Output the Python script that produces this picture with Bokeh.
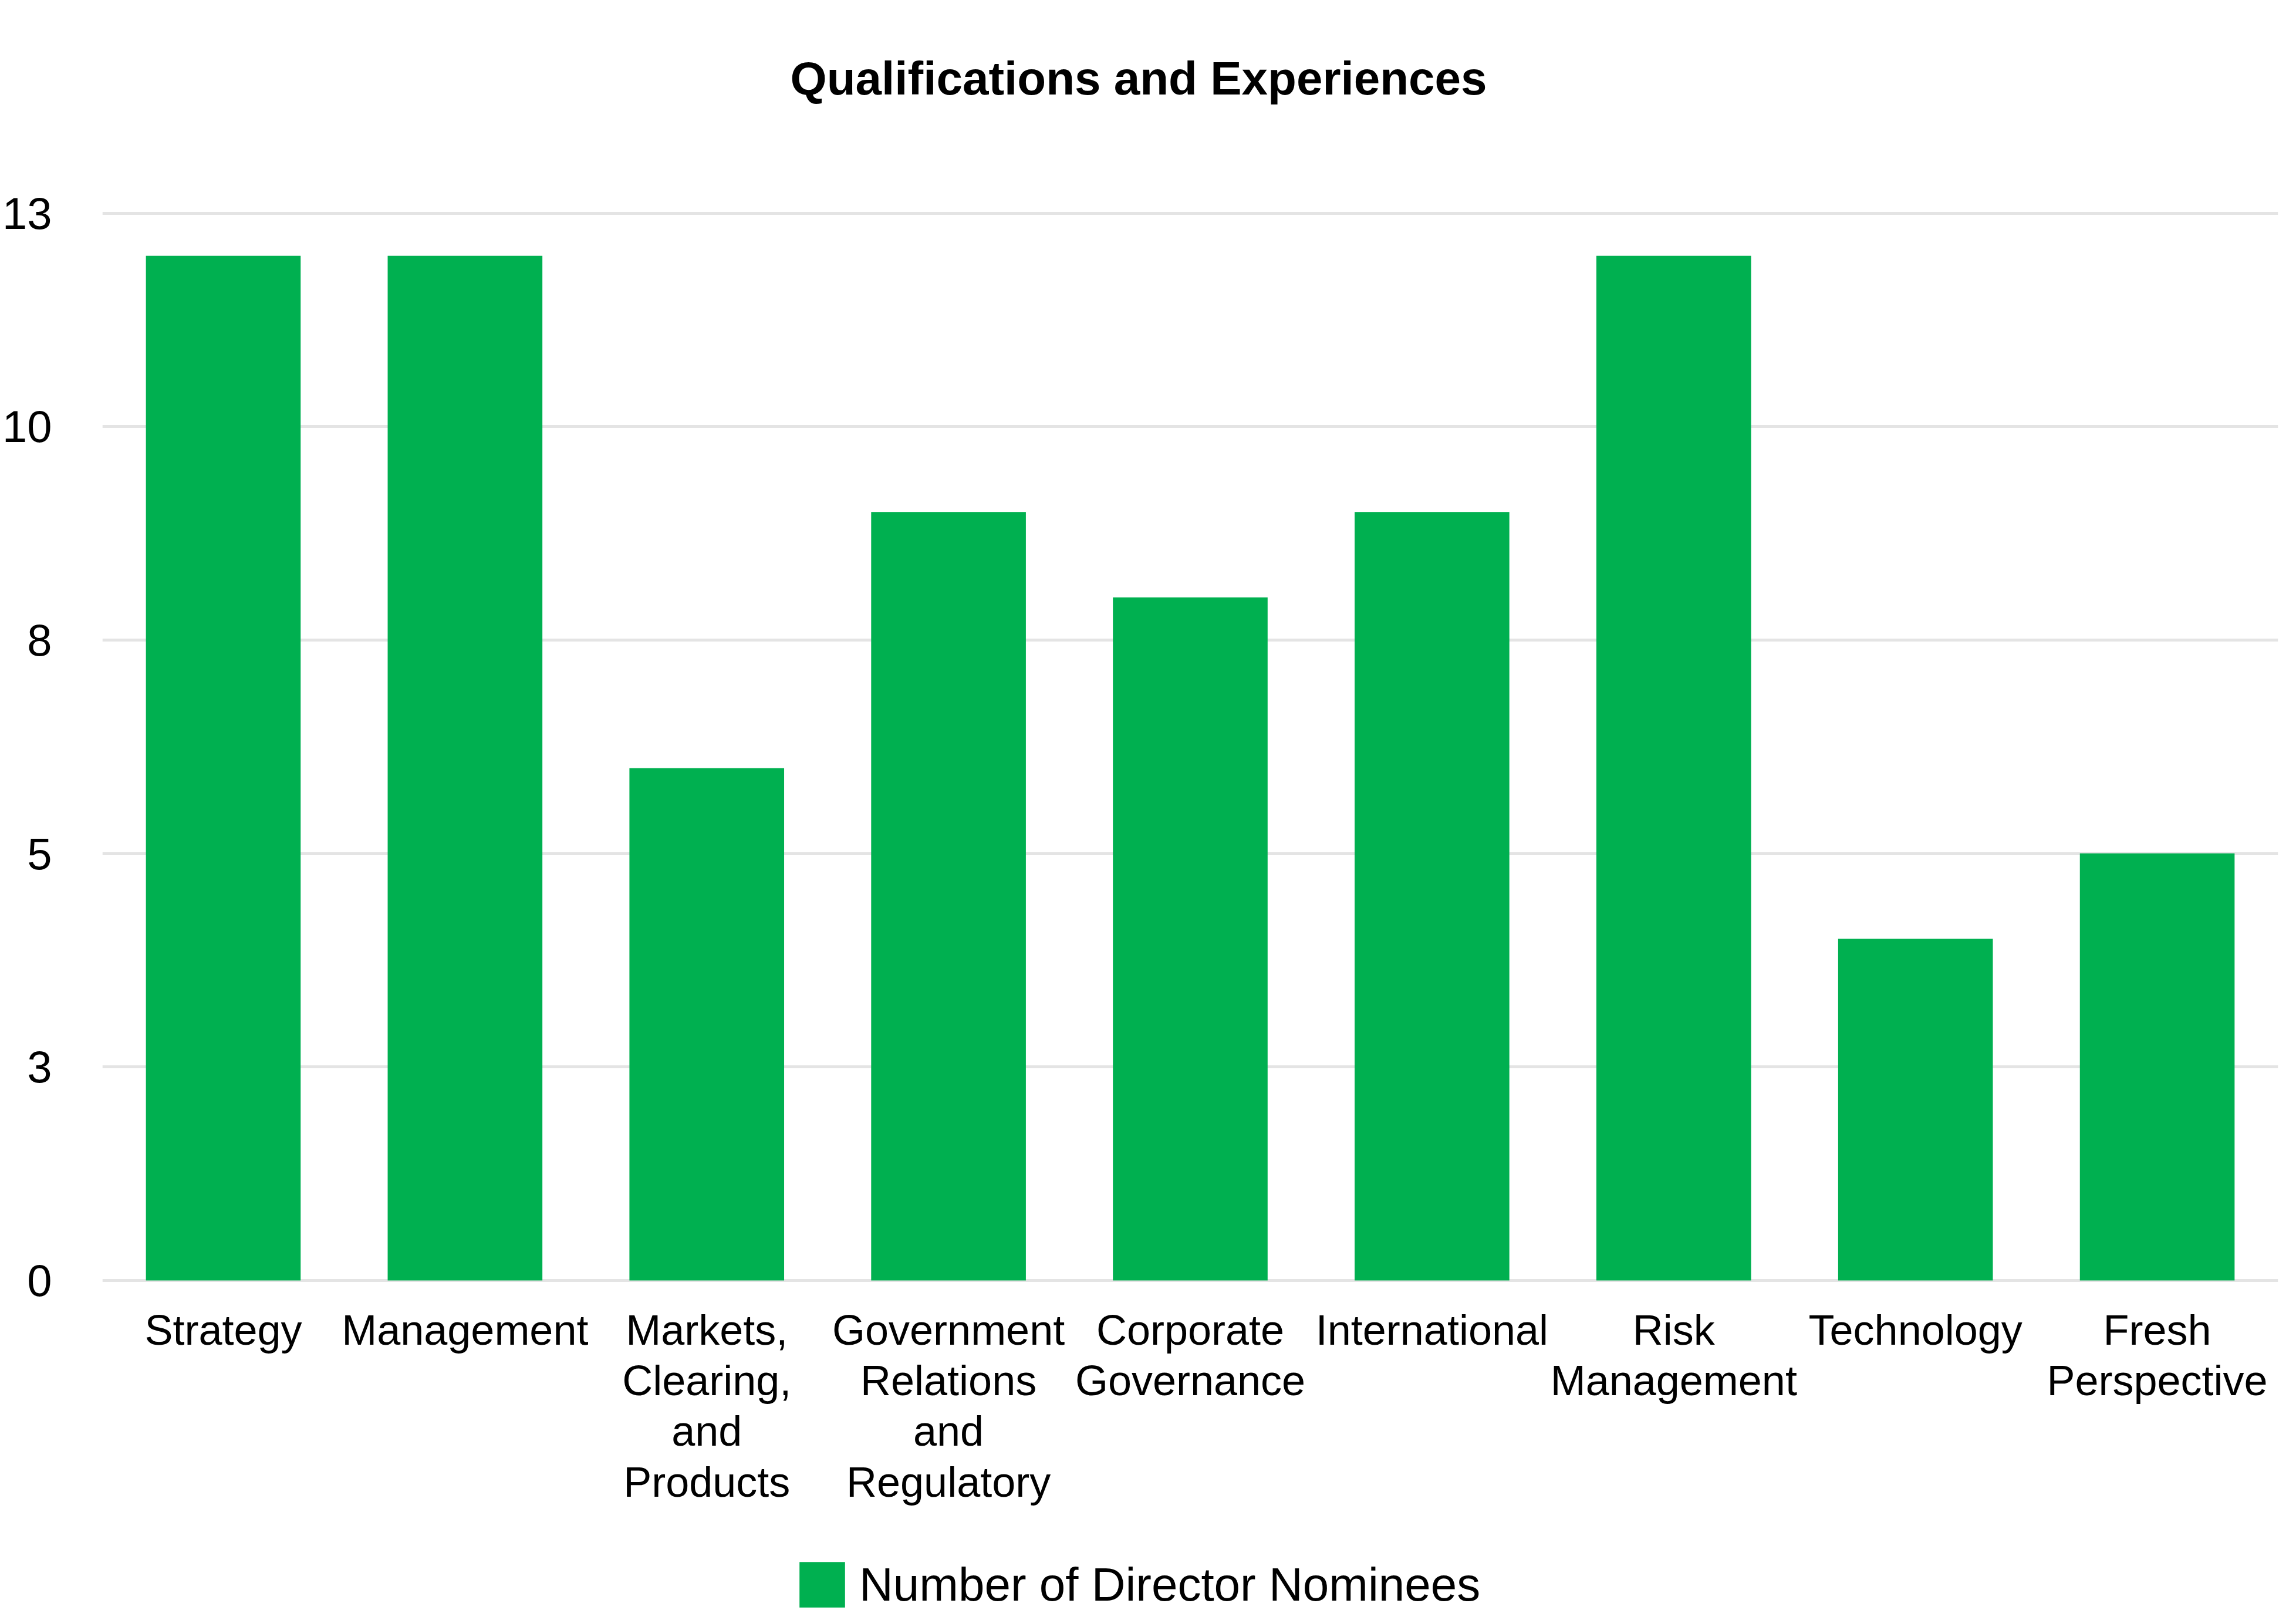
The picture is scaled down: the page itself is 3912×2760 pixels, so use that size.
from bokeh.plotting import figure
from bokeh.models import Range1d, FixedTicker, CustomJSTickFormatter, Legend, LegendItem
from bokeh.core.properties import value
from bokeh.embed import file_html
from bokeh.resources import INLINE

categories = [
    "Strategy",
    "Management",
    "Markets,\nClearing,\nand\nProducts",
    "Government\nRelations\nand\nRegulatory",
    "Corporate\nGovernance",
    "International",
    "Risk\nManagement",
    "Technology",
    "Fresh\nPerspective",
]
counts = [12, 12, 6, 9, 8, 9, 12, 4, 5]
y_ticks = [0, 2.5, 5, 7.5, 10, 12.5]
series_name = "Number of Director Nominees"
chart_title = "Qualifications and Experiences"

FONT = "Liberation Sans"
GREEN = "#00b050"

p = figure(
    x_range=categories,
    y_range=Range1d(-3.918, 13.184),
    frame_width=3707,
    frame_height=2488,
    output_backend="svg",
    toolbar_location=None,
    min_border_left=0,
    min_border_right=14,
    min_border_top=0,
    min_border_bottom=0,
    outline_line_color=None,
)

r = p.vbar(x=categories, top=counts, width=0.64, bottom=0, color=GREEN, line_color=None)

# category labels below the bars
p.text(
    x=categories,
    y=[0] * len(categories),
    text=categories,
    y_offset=44,
    text_align="center",
    text_baseline="top",
    text_font=value(FONT),
    text_font_size="72px",
    text_line_height=1.08,
    text_color="#000000",
)

p.title.text = chart_title
p.title.align = "left"
p.title.text_font = FONT
p.title.text_font_size = "80px"
p.title.text_font_style = "bold"
p.title.text_color = "#000000"
p.title.offset = 1172
p.title.standoff = 172

# y axis
p.yaxis.ticker = FixedTicker(ticks=y_ticks)
p.yaxis.formatter = CustomJSTickFormatter(code="return Math.round(tick).toString();")
p.yaxis.axis_line_color = None
p.yaxis.major_tick_line_color = None
p.yaxis.minor_tick_line_color = None
p.yaxis.major_label_text_font = FONT
p.yaxis.major_label_text_font_size = "76px"
p.yaxis.major_label_text_color = "#000000"
p.yaxis.major_label_standoff = 80

p.xaxis.visible = False
p.xgrid.grid_line_color = None
p.ygrid.grid_line_color = "#e4e4e4"
p.ygrid.grid_line_width = 5

legend = Legend(
    items=[LegendItem(label=series_name, renderers=[r])],
    orientation="horizontal",
    location=(1178, 3),
    glyph_width=97,
    glyph_height=97,
    label_text_font=FONT,
    label_text_font_size="80px",
    label_text_color="#000000",
    border_line_color=None,
    background_fill_alpha=0,
    label_standoff=15,
    padding=5,
    margin=0,
)
p.add_layout(legend, "center")

open("out.html", "w").write(file_html(p, INLINE))
